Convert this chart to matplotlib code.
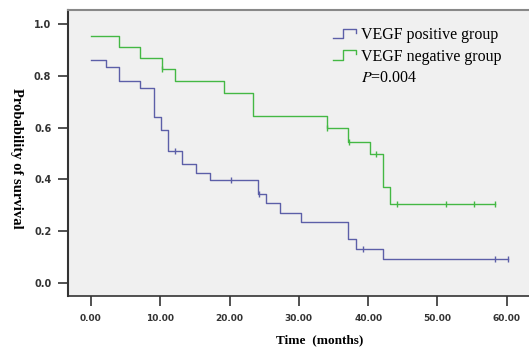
import numpy as np
import matplotlib
matplotlib.use('Agg')
import matplotlib.pyplot as plt
from matplotlib.lines import Line2D
from matplotlib.legend_handler import HandlerBase

plt.rcParams['mathtext.fontset'] = 'stix'

# Kaplan-Meier step data (months, survival)
times_pos = [0, 2.2, 4.1, 7.1, 9.1, 10.1, 11.1, 13.2, 15.2, 17.2, 24.1, 25.3,
             27.3, 30.3, 37.1, 38.2, 42.2, 60.2]
surv_pos = [0.861, 0.835, 0.781, 0.752, 0.642, 0.591, 0.511, 0.459, 0.426,
            0.398, 0.342, 0.308, 0.272, 0.234, 0.170, 0.131, 0.092, 0.092]
cens_pos = [12.1, 20.2, 24.2, 39.2, 58.3, 60.2]

times_neg = [0, 4.1, 7.1, 10.2, 12.1, 19.2, 23.4, 34.0, 37.1, 40.3, 42.2,
             43.1, 58.3]
surv_neg = [0.954, 0.912, 0.868, 0.826, 0.781, 0.732, 0.645, 0.597, 0.546,
            0.498, 0.372, 0.305, 0.305]
cens_neg = [10.3, 34.1, 37.2, 41.2, 44.1, 51.2, 55.3, 58.3]

xticks = [0, 10, 20, 30, 40, 50, 60]
xlabels = ['0.00', '10.00', '20.00', '30.00', '40.00', '50.00', '60.00']
yticks = [0.0, 0.2, 0.4, 0.6, 0.8, 1.0]
ylabels = ['0.0', '0.2', '0.4', '0.6', '0.8', '1.0']

blue = '#5c5fa8'
green = '#44b844'


def surv_at(t, times, surv):
    i = np.searchsorted(times, t, side='right') - 1
    return np.asarray(surv)[i]


class StepHandler(HandlerBase):
    def create_artists(self, legend, orig, xd, yd, w, h, fontsize, trans):
        x = [xd, xd + w * 0.45, xd + w * 0.45, xd + w, xd + w]
        y = [yd + h * 0.1, yd + h * 0.1, yd + h * 0.95, yd + h * 0.95, yd + h * 0.6]
        ln = Line2D(x, y, color=orig.get_color(), lw=1.0, transform=trans)
        return [ln]


fig = plt.figure(figsize=(5.29, 3.49), dpi=100)
ax = fig.add_axes([0.1285, 0.1519, 0.8715, 0.8195])
ax.set_facecolor('#f0f0f0')

ax.step(times_pos, surv_pos, where='post', color=blue, lw=1.0)
ax.step(times_neg, surv_neg, where='post', color=green, lw=1.0)
ax.plot(cens_pos, [surv_at(t, times_pos, surv_pos) for t in cens_pos], '|',
        color=blue, ms=5, mew=1.0)
ax.plot(cens_neg, [surv_at(t, times_neg, surv_neg) for t in cens_neg], '|',
        color=green, ms=5, mew=1.0)

ax.set_xlim(-3.3, 63.2)
ax.set_ylim(-0.05, 1.054)
ax.set_xticks(xticks)
ax.set_xticklabels(xlabels, fontsize=6.5, fontweight='bold', color='#333333')
ax.set_yticks(yticks)
ax.set_yticklabels(ylabels, fontsize=7, fontweight='bold', color='#333333')
ax.tick_params(axis='both', direction='out', length=7, width=1.2, color='#333333')
ax.tick_params(axis='x', pad=6)
ax.tick_params(axis='y', pad=5)

ax.spines['right'].set_visible(False)
ax.spines['top'].set_color('#888888')
ax.spines['top'].set_linewidth(1.5)
ax.spines['left'].set_linewidth(1.5)
ax.spines['left'].set_color('#333333')
ax.spines['bottom'].set_linewidth(1.2)
ax.spines['bottom'].set_color('#333333')

ax.set_xlabel('Time  (months)', fontsize=9.5, fontweight='bold',
              family='Liberation Serif', va='center')
ax.set_ylabel('Probability of survival', fontsize=10.5, fontweight='bold',
              family='Liberation Serif', rotation=-90, va='center')
ax.xaxis.set_label_coords(0.545, -0.154)
ax.yaxis.set_label_coords(-0.112, 0.48)

h1 = Line2D([], [], color=blue)
h2 = Line2D([], [], color=green)
h3 = Line2D([], [], color='none')
leg = ax.legend([h1, h2, h3], ['VEGF positive group', 'VEGF negative group', '$P$=0.004'],
                handler_map={h1: StepHandler(), h2: StepHandler()},
                loc='upper left', bbox_to_anchor=(0.56, 0.962), frameon=False,
                prop={'family': 'Liberation Serif', 'size': 11.5},
                handlelength=1.5, handletextpad=0.3, labelspacing=0.35,
                borderaxespad=0)

fig.savefig('out.png', dpi=100)
